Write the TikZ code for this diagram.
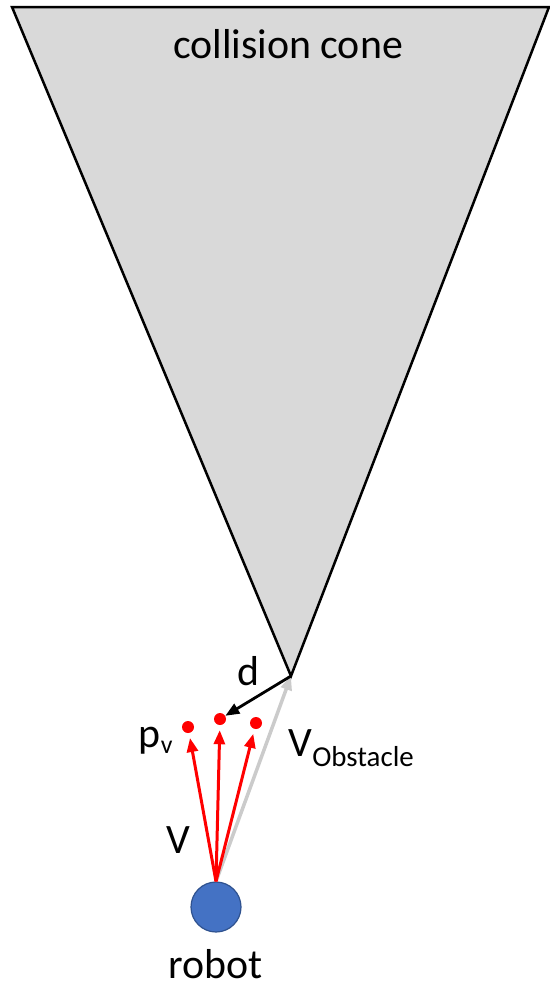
\documentclass[tikz,border=0pt]{standalone}
\usepackage{fontspec}
\setmainfont{Carlito}
\usetikzlibrary{positioning, arrows.meta}

\definecolor{robotblue}{RGB}{68,114,196}
\definecolor{robotedge}{RGB}{47,82,143}
\definecolor{conegray}{RGB}{217,217,217}
\definecolor{velred}{RGB}{255,0,0}

\begin{document}
\begin{tikzpicture}[
        x=1bp, y=-1bp,
        >={Triangle[length=14bp, width=11bp]},
        every node/.style={font=\fontsize{42}{50}\selectfont},
        cone/.style={draw, fill=conegray, line width=2.5bp, line join=miter},
        dot/.style={circle, fill=velred, inner sep=0pt, minimum size=12bp},
        vel/.style={->, velred, line width=3bp, shorten >=5bp},
        obst/.style={->, conegray!85!gray, line width=3.5bp},
        dist/.style={->, black, line width=2.8bp}
    ]
        \useasboundingbox (0,0) rectangle (550,987);
        % cone
        \coordinate (apex) at (291,676);
        \draw[cone] (12,7) -- (549,7) -- (apex) -- cycle;
        \node (title) at (288,44) {collision cone};
% robot and sampled velocities
        \node[circle, fill=robotblue, draw=robotedge, line width=1.2bp, minimum size=50bp, inner sep=0pt] (robot) at (216,907) {};
        \node[dot] (pl) at (188,727) {};
        \node[dot] (pm) at (220,719) {};
        \node[dot] (pr) at (256,723) {};
        \draw[obst] (robot.north) -- (apex);
        \path[vel]
        (robot.north) edge (pl)
        (robot.north) edge (pm)
        (robot.north) edge (pr);
        \draw[dist] (apex) -- (pm);
        % labels
        \node (d) at (248,671) {d};
        \node[anchor=east] (pv) at (176,741) {p\raisebox{-6bp}{\fontsize{26}{26}\selectfont v}};
        \node[anchor=west] (vo) at (285,748) {V\raisebox{-10bp}{\fontsize{29}{29}\selectfont Obstacle}};
        \node (v) at (178,840) {V};
        \node (lbl) at (216,964) {robot};
\end{tikzpicture}
\end{document}
